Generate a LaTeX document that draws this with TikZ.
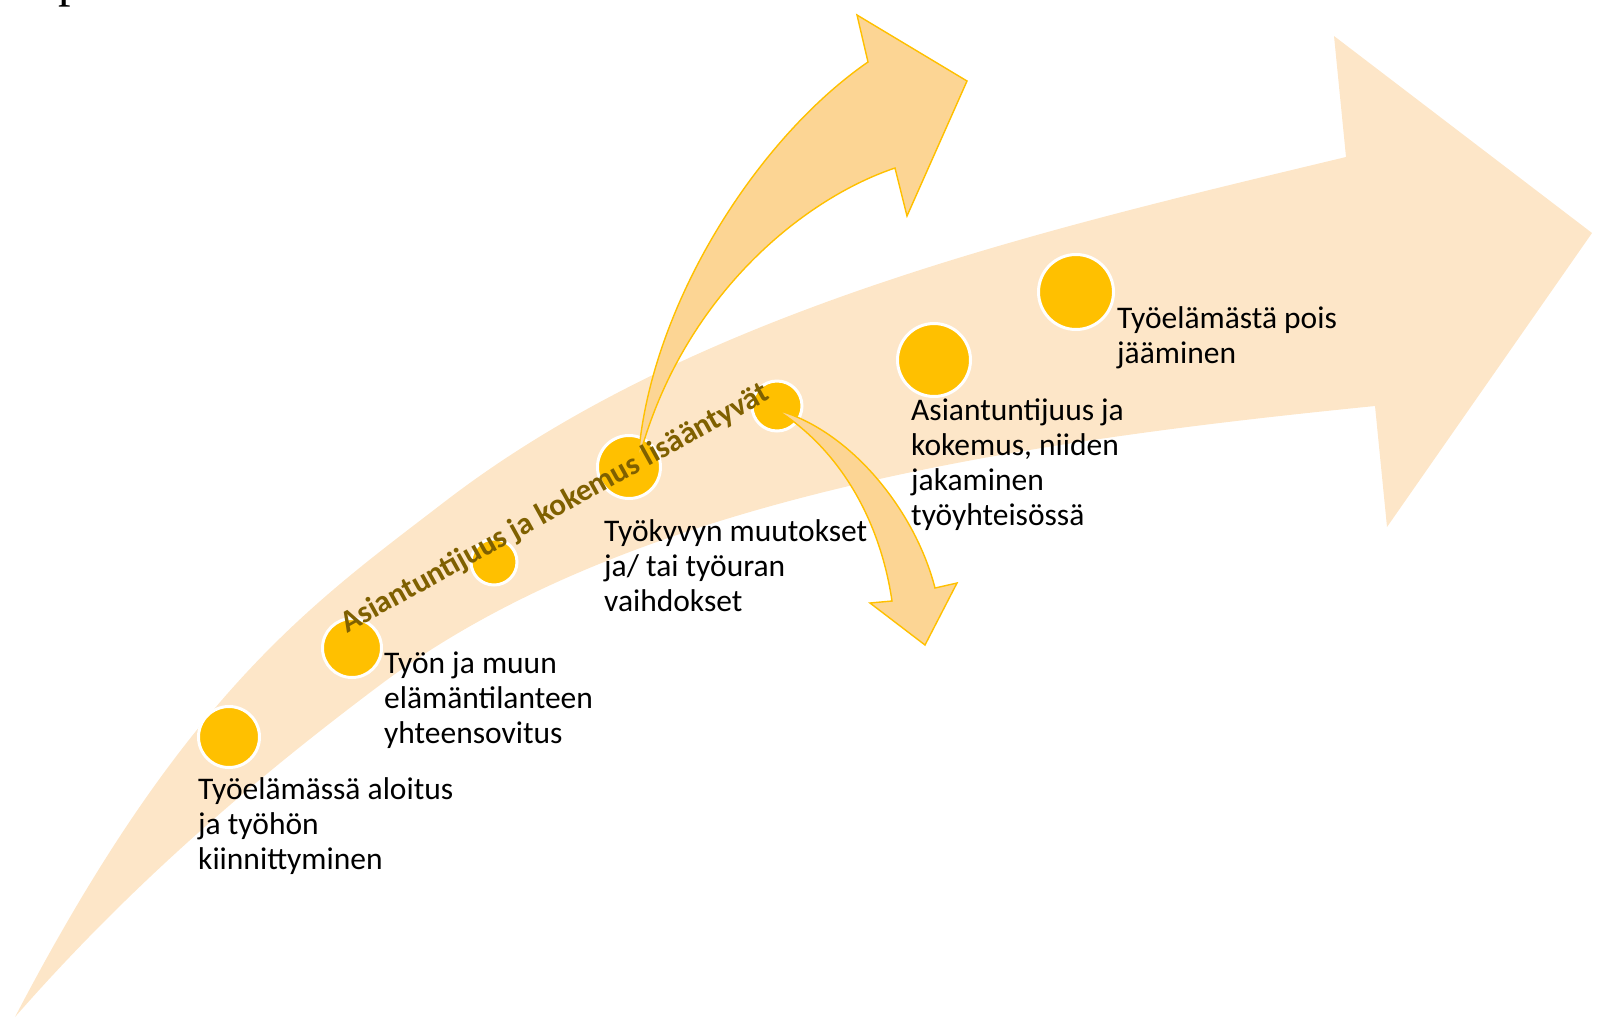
\documentclass[tikz,border=0pt]{standalone}
\usepackage{fontspec}
\setmainfont{Carlito}
\newfontfamily\serifface{Liberation Serif}
\definecolor{bandpeach}{HTML}{FDE6C8}
\definecolor{gold}{HTML}{FFC000}
\definecolor{branchfill}{HTML}{FCD594}
\definecolor{olive}{HTML}{7F6000}
\begin{document}
\begin{tikzpicture}[x=1pt,y=-1pt,
  dot/.style={circle,fill=gold,draw=white,line width=3pt,inner sep=0pt},
  branch/.style={fill=branchfill,draw=gold,line width=1.4pt,line join=miter},
  lbl/.style={anchor=base west,inner sep=0pt,align=left,
    font=\fontsize{31.5}{35}\selectfont,text=black},
  trend/.style={inner sep=0pt,text=olive,font=\bfseries\fontsize{31}{35}\selectfont}]
\useasboundingbox (0,0) rectangle (1603,1018);

% fragment of a heading above the picture
\node[anchor=base west,inner sep=0pt,font=\serifface\fontsize{50}{50}\selectfont] (frag) at (58,-4) {p};

% wide career arrow
\fill[bandpeach]
  (15,1017) .. controls (185,691) and (313,603) .. (443,503)
  .. controls (693,310) and (1046,229) .. (1346,157)
  -- (1334,36) -- (1592,233) -- (1387,527) -- (1375,406)
  .. controls (1025,441) and (630,497) .. (380,685)
  .. controls (260,775) and (135,880) .. (15,1017) -- cycle;

% stages
\node[dot,minimum size=61pt] (c1) at (229,737) {};
\node[dot,minimum size=59pt] (c2) at (352,648) {};
\node[dot,minimum size=46pt] (c3) at (494,562) {};
\node[dot,minimum size=63pt] (c4) at (629,467) {};
\node[dot,minimum size=50pt] (c5) at (777,406) {};
\node[dot,minimum size=73pt] (c6) at (934,360) {};
\node[dot,minimum size=75pt] (c7) at (1076,292) {};

% branch arrows leaving the path
\coordinate (upTail) at (638,462);
\coordinate (downTail) at (777,410);
\filldraw[branch] (upTail) .. controls (648,310) and (755,140) .. (868,62)
  -- (857,15) -- (967,81) -- (907,216) -- (895,168)
  .. controls (800,200) and (680,300) .. (upTail) -- cycle;
\filldraw[branch] (downTail) .. controls (850,430) and (915,510) .. (935,588)
  -- (957,583) -- (925,645) -- (870,603) -- (892,601)
  .. controls (880,520) and (840,450) .. (downTail) -- cycle;

% stage labels (anchored at the baseline of their last line)
\node[lbl] (t1) at (198,869) {Työelämässä aloitus\\ja työhön\\kiinnittyminen};
\node[lbl] (t2) at (384,743) {Työn ja muun\\elämäntilanteen\\yhteensovitus};
\node[lbl] (t3) at (604,611) {Työkyvyn muutokset\\ja/ tai työuran\\vaihdokset};
\node[lbl] (t4) at (911,525) {Asiantuntijuus ja\\kokemus, niiden\\jakaminen\\työyhteisössä};
\node[lbl] (t5) at (1117,363) {Työelämästä pois\\jääminen};

% running label along the arrow
\node[trend,rotate=29] (trendlbl) at (555,509) {Asiantuntijuus ja kokemus lisääntyvät};
\end{tikzpicture}
\end{document}
